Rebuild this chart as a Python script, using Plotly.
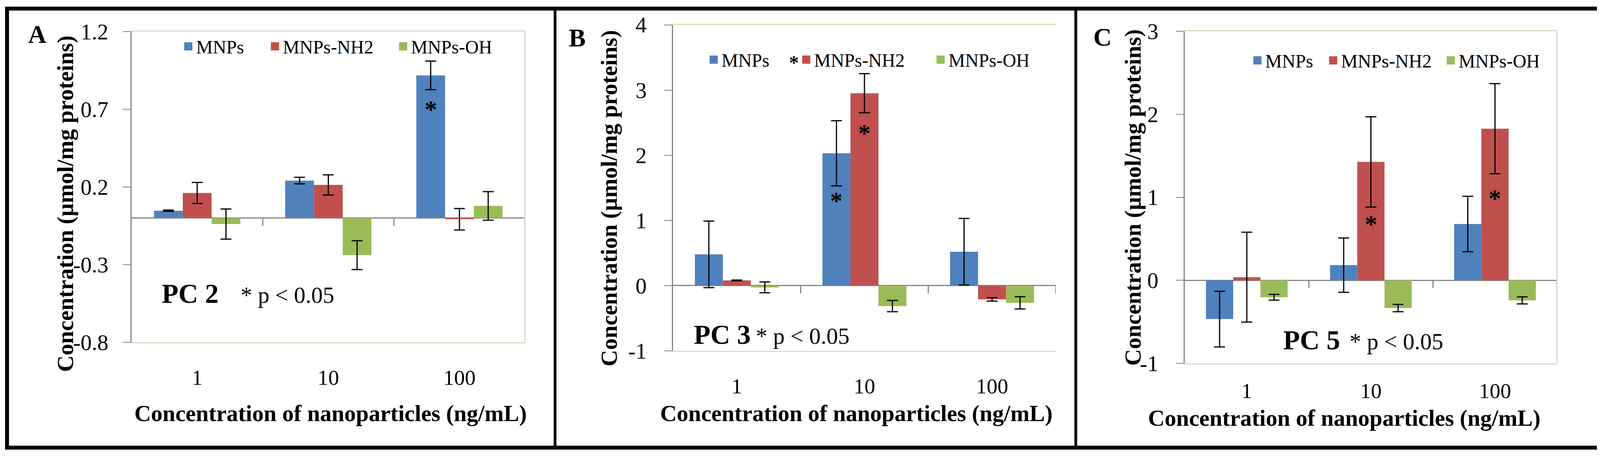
import plotly.graph_objects as go

# figure size (px) and fonts
W, H = 4132, 1171
FONT = "Liberation Serif"
PAGE_OFFSET = 8  # default body margin of the html page

# categories and series
doses = ["1", "10", "100"]
series_names = ["MNPs", "MNPs-NH2", "MNPs-OH"]
colors = ["#4F81BD", "#C0504D", "#9BBB59"]

# Panel A - PC 2
pc2_mnps = [0.047, 0.241, 0.918]
pc2_mnps_err = [0.004, 0.021, 0.092]
pc2_nh2 = [0.161, 0.213, -0.008]
pc2_nh2_err = [0.068, 0.065, 0.069]
pc2_oh = [-0.039, -0.239, 0.078]
pc2_oh_err = [0.097, 0.093, 0.092]
pc2_yticks = [-0.8, -0.3, 0.2, 0.7, 1.2]
pc2_stars = [(2, 0, 0.73)]

# Panel B - PC 3
pc3_mnps = [0.48, 2.03, 0.52]
pc3_mnps_err = [0.51, 0.50, 0.51]
pc3_nh2 = [0.08, 2.95, -0.21]
pc3_nh2_err = [0.006, 0.30, 0.027]
pc3_oh = [-0.027, -0.313, -0.264]
pc3_oh_err = [0.083, 0.087, 0.094]
pc3_yticks = [-1, 0, 1, 2, 3, 4]
pc3_stars = [(1, 0, 1.37), (1, 1, 2.41)]

# Panel C - PC 5
pc5_mnps = [-0.467, 0.183, 0.678]
pc5_mnps_err = [0.335, 0.327, 0.334]
pc5_nh2 = [0.038, 1.426, 1.826]
pc5_nh2_err = [0.541, 0.543, 0.543]
pc5_oh = [-0.204, -0.334, -0.242]
pc5_oh_err = [0.035, 0.044, 0.042]
pc5_yticks = [-1, 0, 1, 2, 3]
pc5_stars = [(1, 1, 0.73), (2, 1, 1.04)]

BAR_GAP = 0.342
GRAY = "#868686"
BEIGE = "#DDD9C3"


def fx(px):
    return (px - PAGE_OFFSET) / W


def fy(py):
    return 1 - (py - PAGE_OFFSET) / H


panels = [
    dict(vals=[pc2_mnps, pc2_nh2, pc2_oh], errs=[pc2_mnps_err, pc2_nh2_err, pc2_oh_err],
         yticks=pc2_yticks, stars=pc2_stars, label="PC 2",
         box=(337, 1344, 81, 877), letter=("A", 95, 88), legend=(462, 119),
         lw=[177, 283, 200], pc=(412, 614, 752), ytitle=(167, 522), xtitle=(846, 1059),
         ystand=25, xstand=40, rborder=True),
    dict(vals=[pc3_mnps, pc3_nh2, pc3_oh], errs=[pc3_mnps_err, pc3_nh2_err, pc3_oh_err],
         yticks=pc3_yticks, stars=pc3_stars, label="PC 3",
         box=(1723, 2703, 63.5, 899), letter=("B", 1477, 97), legend=(1807, 153),
         lw=[192, 299, 200], pc=(1774, 1933, 857), ytitle=(1559, 508), xtitle=(2192, 1059),
         ystand=33, xstand=40, rborder=False),
    dict(vals=[pc5_mnps, pc5_nh2, pc5_oh], errs=[pc5_mnps_err, pc5_nh2_err, pc5_oh_err],
         yticks=pc5_yticks, stars=pc5_stars, label="PC 5",
         box=(3033, 3986, 80, 931), letter=("C", 2822, 95), legend=(3199, 155),
         lw=[149, 256, 200], pc=(3283, 3453, 871), ytitle=(2900, 506), xtitle=(3441, 1071),
         ystand=33, xstand=20, rborder=True),
]

fig = go.Figure()
annotations = []
shapes = []
layout = {}

for i, p in enumerate(panels):
    n = "" if i == 0 else str(i + 1)
    xa, ya = "x" + n, "y" + n
    leg = "legend" + n
    x0, x1, yt, yb = p["box"]
    ymin, ymax = p["yticks"][0], p["yticks"][-1]

    for s in range(3):
        fig.add_trace(go.Bar(
            x=doses, y=p["vals"][s], marker_color=colors[s], marker_line_width=0,
            error_y=dict(type="data", array=p["errs"][s], visible=True,
                         color="black", thickness=3, width=14),
            showlegend=False, xaxis=xa, yaxis=ya))
    # legend entries (square markers)
    for s in range(3):
        fig.add_trace(go.Scatter(
            x=[None], y=[None], mode="markers", name=series_names[s],
            marker=dict(symbol="square", size=16, color=colors[s],
                        line=dict(color=colors[s], width=5)),
            legend=leg, legendwidth=p["lw"][s], xaxis=xa, yaxis=ya))

    layout["xaxis" + n] = dict(
        domain=[fx(x0), fx(x1)], anchor=ya, type="category", range=[-0.5, 2.5],
        showline=True, linecolor=BEIGE, linewidth=3, mirror=True, ticks="",
        showgrid=False, zeroline=False, ticklabelstandoff=p["xstand"], automargin=False,
        tickfont=dict(family=FONT, size=55, color="black"))
    layout["yaxis" + n] = dict(
        domain=[fy(yb), fy(yt)], anchor=xa, range=[ymin, ymax],
        tickmode="array", tickvals=p["yticks"], ticktext=[str(v) for v in p["yticks"]],
        showline=True, linecolor=GRAY, linewidth=3, ticks="outside", ticklen=20,
        tickwidth=2, tickcolor=GRAY, showgrid=False, zeroline=True,
        zerolinecolor=GRAY, zerolinewidth=3, ticklabelstandoff=p["ystand"], automargin=False,
        tickfont=dict(family=FONT, size=57, color="black"))
    layout[leg] = dict(
        orientation="h", x=fx(p["legend"][0]), xanchor="left", y=fy(p["legend"][1]),
        yanchor="middle", bgcolor="rgba(0,0,0,0)", itemwidth=30,
        font=dict(family=FONT, size=48, color="black"))

    # category boundary ticks hanging from the zero line
    tick_len = 20 * (ymax - ymin) / (yb - yt)
    for b in [0.5, 1.5, 2.5]:
        shapes.append(dict(type="line", xref=xa, yref=ya, x0=b, x1=b, y0=0, y1=-tick_len,
                           line=dict(color=GRAY, width=3)))
    if p["rborder"]:
        shapes.append(dict(type="line", xref=xa + " domain", yref=ya + " domain",
                           x0=1, x1=1, y0=0, y1=1, line=dict(color=BEIGE, width=3)))

    # significance stars on bars
    off = (1 - BAR_GAP) / 3
    for d, s, yv in p["stars"]:
        annotations.append(dict(x=d + (s - 1) * off, y=yv, xref=xa, yref=ya,
                                text="<b>*</b>", showarrow=False, yshift=-12,
                                font=dict(family=FONT, size=64, color="black")))

    # panel letter
    annotations.append(dict(x=fx(p["letter"][1]), y=fy(p["letter"][2]), xref="paper",
                            yref="paper", text="<b>%s</b>" % p["letter"][0], showarrow=False,
                            xanchor="center", yanchor="middle",
                            font=dict(family=FONT, size=65, color="black")))
    # PC label and p-value note
    annotations.append(dict(x=fx(p["pc"][0]), y=fy(p["pc"][2]), xref="paper", yref="paper",
                            text="<b>%s</b>" % p["label"], showarrow=False,
                            xanchor="left", yanchor="middle",
                            font=dict(family=FONT, size=70, color="black")))
    annotations.append(dict(x=fx(p["pc"][1]), y=fy(p["pc"][2]), xref="paper", yref="paper",
                            text="* p &lt; 0.05", showarrow=False,
                            xanchor="left", yanchor="middle", yshift=-4,
                            font=dict(family=FONT, size=59, color="black")))
    # axis titles
    annotations.append(dict(x=fx(p["ytitle"][0]), y=fy(p["ytitle"][1]), xref="paper",
                            yref="paper", text="<b>Concentration (µmol/mg proteins)</b>",
                            textangle=-90, showarrow=False, xanchor="center",
                            yanchor="middle", font=dict(family=FONT, size=59, color="black")))
    annotations.append(dict(x=fx(p["xtitle"][0]), y=fy(p["xtitle"][1]), xref="paper",
                            yref="paper", text="<b>Concentration of nanoparticles (ng/mL)</b>",
                            showarrow=False, xanchor="center", yanchor="middle",
                            font=dict(family=FONT, size=59, color="black")))

# stray star in front of the panel B legend entry
annotations.append(dict(x=fx(2032), y=fy(152), xref="paper", yref="paper", text="<b>*</b>",
                        showarrow=False, yshift=22,
                        font=dict(family=FONT, size=50, color="black")))

# outer frame and panel separators
shapes.append(dict(type="rect", xref="paper", yref="paper", x0=fx(18), x1=fx(4110),
                   y0=fy(1147), y1=fy(22), line=dict(color="black", width=10)))
for sx in [1421, 2754]:
    shapes.append(dict(type="line", xref="paper", yref="paper", x0=fx(sx), x1=fx(sx),
                       y0=fy(1147), y1=fy(22), line=dict(color="black", width=7)))

fig.update_layout(
    width=W, height=H, margin=dict(l=0, r=0, t=0, b=0, pad=0, autoexpand=False),
    paper_bgcolor="white", plot_bgcolor="white",
    barmode="group", bargap=BAR_GAP, bargroupgap=0,
    font=dict(family=FONT, color="black"),
    annotations=annotations, shapes=shapes, **layout)

fig.write_html("out.html")
